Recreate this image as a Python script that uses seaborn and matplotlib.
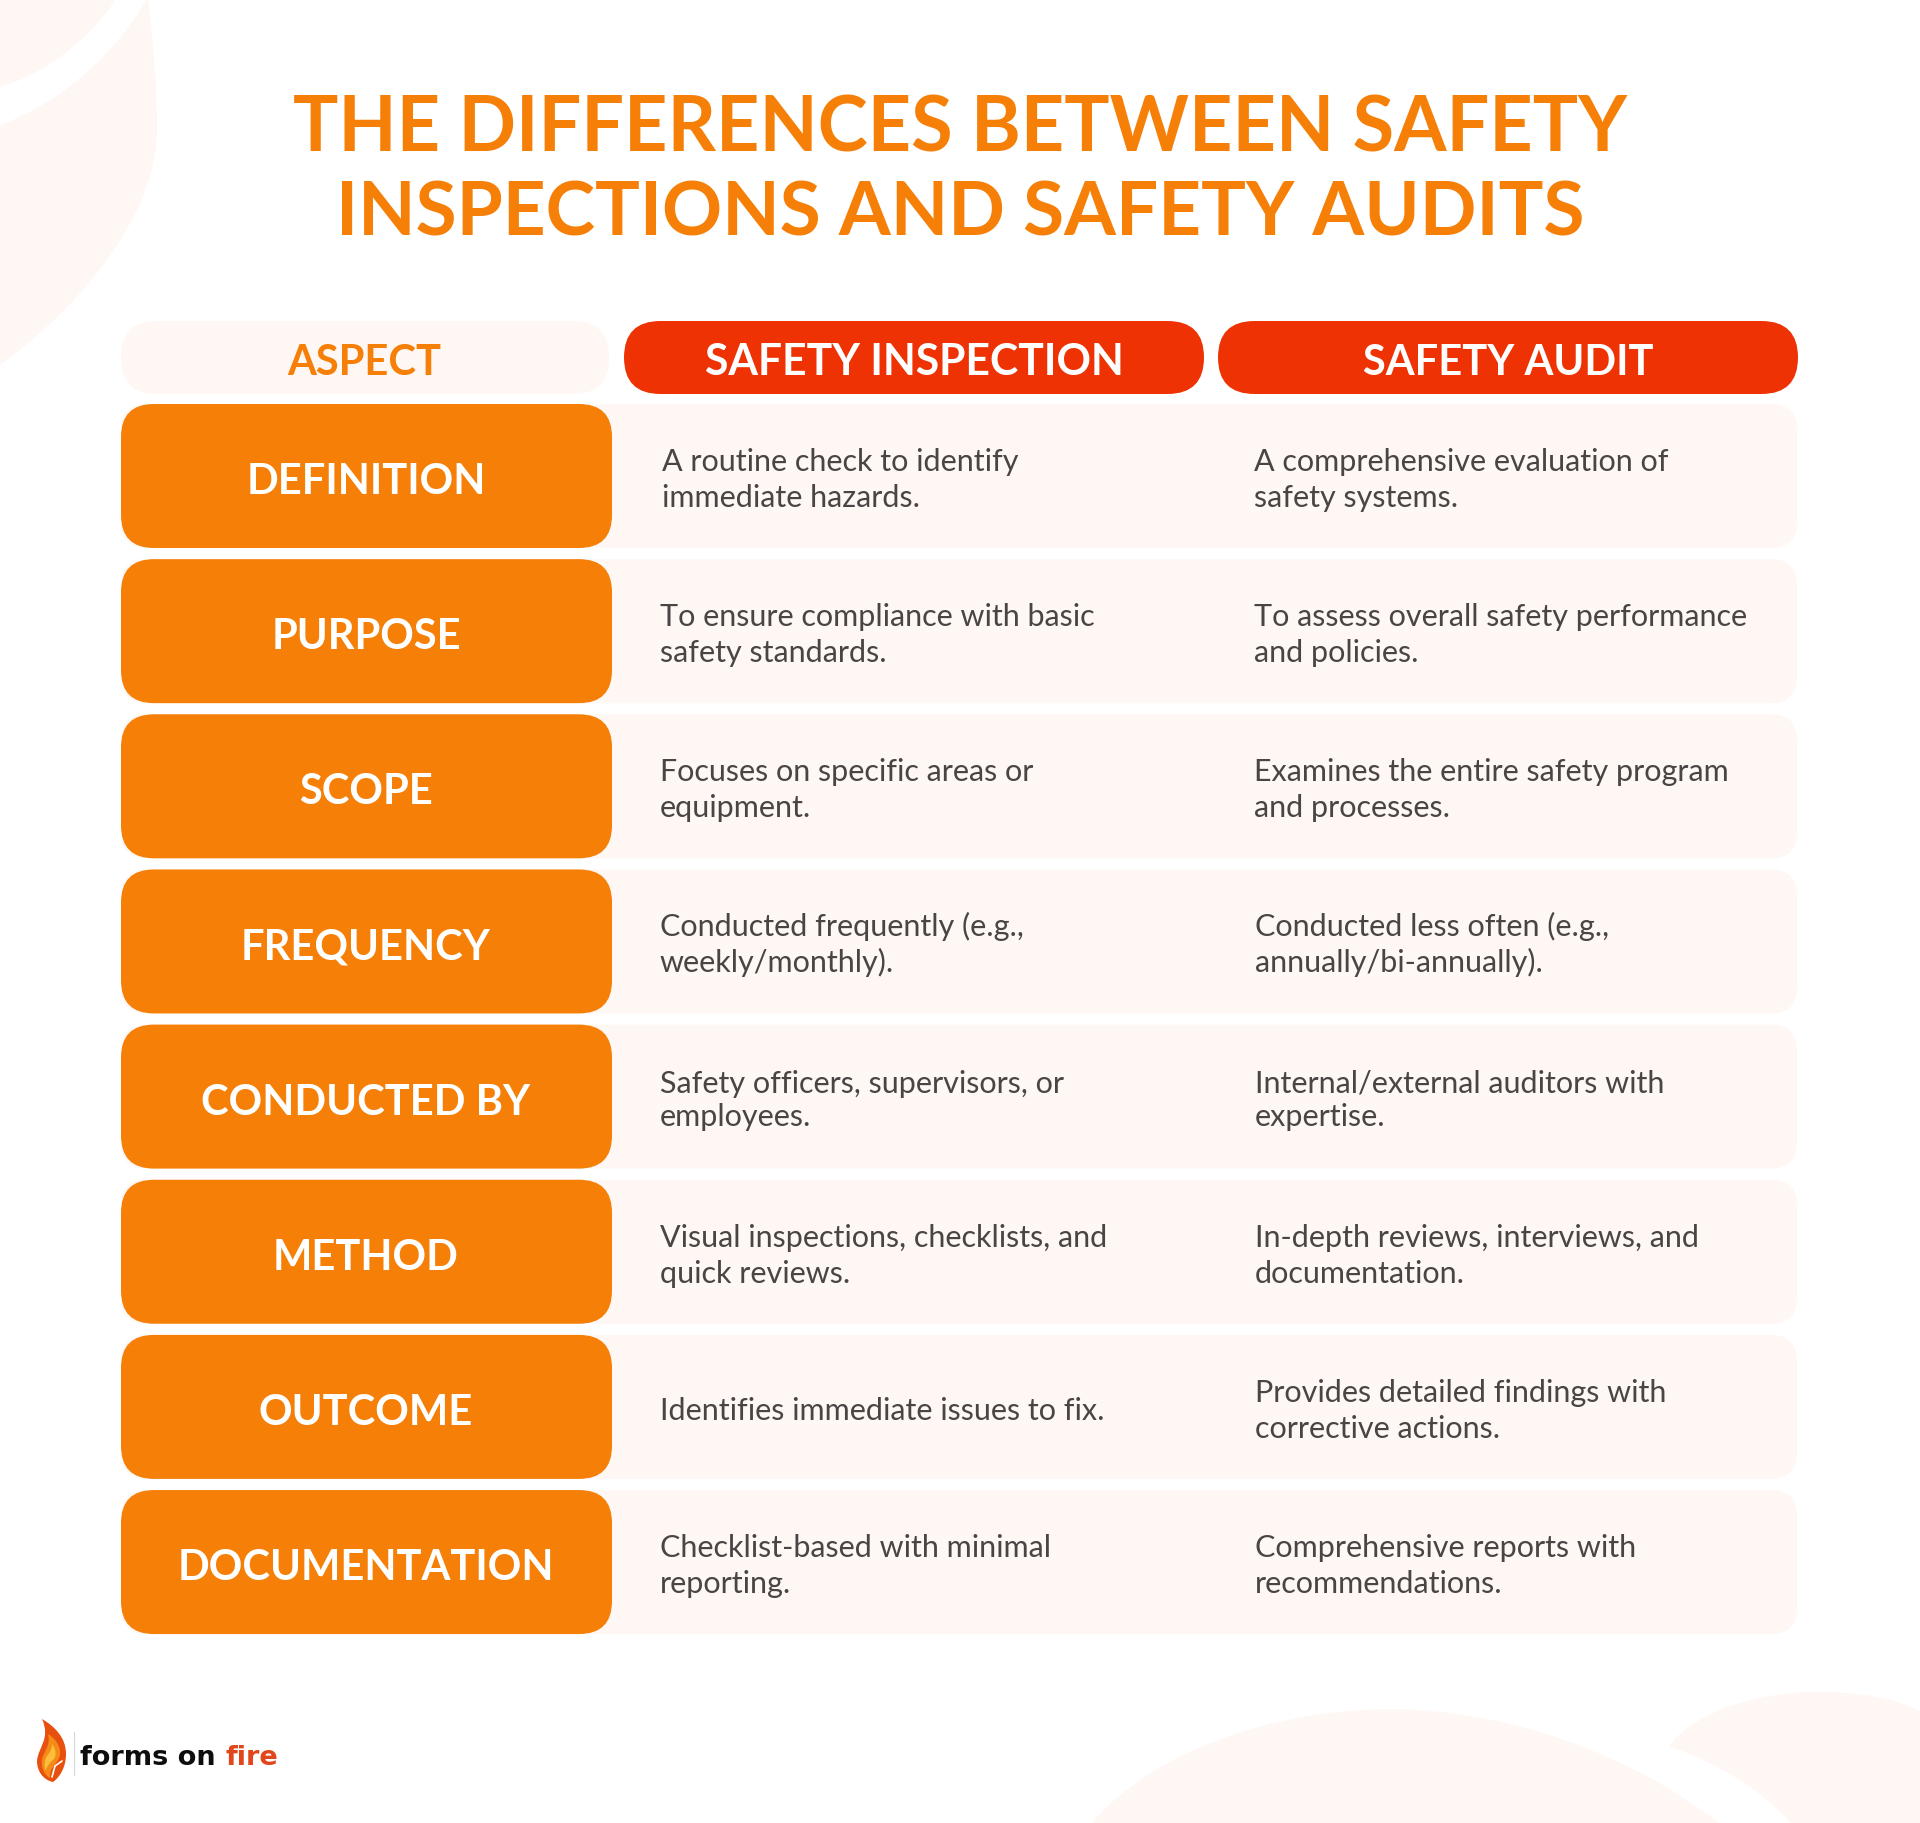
import matplotlib.pyplot as plt
import pandas as pd
import seaborn as sns
from matplotlib.patches import FancyBboxPatch, PathPatch
from matplotlib.path import Path

title_lines = ["THE DIFFERENCES BETWEEN SAFETY", "INSPECTIONS AND SAFETY AUDITS"]
headers = ["ASPECT", "SAFETY INSPECTION", "SAFETY AUDIT"]
aspects = ["DEFINITION", "PURPOSE", "SCOPE", "FREQUENCY", "CONDUCTED BY", "METHOD", "OUTCOME", "DOCUMENTATION"]
inspection = [
    "A routine check to identify\nimmediate hazards.",
    "To ensure compliance with basic\nsafety standards.",
    "Focuses on specific areas or\nequipment.",
    "Conducted frequently (e.g.,\nweekly/monthly).",
    "Safety officers, supervisors, or\nemployees.",
    "Visual inspections, checklists, and\nquick reviews.",
    "Identifies immediate issues to fix.",
    "Checklist-based with minimal\nreporting.",
]
audit = [
    "A comprehensive evaluation of\nsafety systems.",
    "To assess overall safety performance\nand policies.",
    "Examines the entire safety program\nand processes.",
    "Conducted less often (e.g.,\nannually/bi-annually).",
    "Internal/external auditors with\nexpertise.",
    "In-depth reviews, interviews, and\ndocumentation.",
    "Provides detailed findings with\ncorrective actions.",
    "Comprehensive reports with\nrecommendations.",
]

ORANGE = "#F57F07"
RED = "#EE3203"
TINT = "#FEF7F4"
INK = "#4A4444"
FONT = "Lato"

ROW_TOP = 405
ROW_STEP = 155.15
ROW_H = 144


def box(ax, x0, y0, x1, y1, radius, color, z=1):
    ax.add_patch(FancyBboxPatch((x0, y0), x1 - x0, y1 - y0,
                                boxstyle=f"round,pad=0,rounding_size={radius}",
                                fc=color, ec="none", zorder=z))


def blob(ax, verts, color, z=0):
    # closed shape from a start point and cubic bezier triples
    codes = [Path.MOVETO] + [Path.CURVE4] * (len(verts) - 1)
    verts = list(verts) + [verts[0]]
    codes = codes + [Path.CLOSEPOLY]
    ax.add_patch(PathPatch(Path(verts, codes), fc=color, ec="none", zorder=z))


def draw_background(ax):
    # top left flame shape, with the white band across it
    blob(ax, [(0, 0), (50, 0), (100, 0), (148, 0), (153, 40), (157, 90), (157, 130),
              (157, 210), (90, 300), (0, 366), (0, 240), (0, 120), (0, 0)], TINT)
    blob(ax, [(0, 88), (45, 75), (90, 40), (116, 0), (126, 0), (137, 0), (147, 0),
              (115, 55), (60, 105), (0, 126), (0, 113), (0, 100), (0, 88)], "white", z=0.5)
    # bottom right shapes
    blob(ax, [(1092, 1824), (1150, 1755), (1270, 1710), (1394, 1710), (1510, 1712), (1630, 1755), (1719, 1824),
              (1510, 1824), (1300, 1824), (1092, 1824)], TINT)
    blob(ax, [(1669, 1747), (1695, 1712), (1760, 1693), (1816, 1693), (1860, 1693), (1890, 1698), (1920, 1712),
              (1920, 1750), (1920, 1790), (1920, 1824), (1880, 1824), (1830, 1824), (1791, 1824),
              (1760, 1790), (1720, 1765), (1669, 1747)], TINT)


def draw_logo(ax):
    blob(ax, [(42, 1720), (54, 1727), (66, 1738), (66, 1755), (66, 1768), (60, 1778), (53, 1783),
              (43, 1781), (37, 1772), (37, 1762), (38, 1748), (51, 1740), (42, 1720)], "#E8500F", z=3)
    blob(ax, [(48, 1735), (56, 1740), (61, 1748), (60, 1756), (58, 1765), (49, 1768), (50, 1779),
              (43, 1775), (41, 1767), (42, 1760), (44, 1752), (51, 1746), (48, 1735)], "#F68A17", z=4)
    blob(ax, [(52, 1745), (56, 1750), (57, 1757), (53, 1761), (49, 1765), (46, 1768), (46, 1772),
              (43, 1766), (45, 1760), (47, 1757), (50, 1753), (52, 1750), (52, 1745)], "#FBBE3C", z=5)
    ax.plot([62, 55, 52], [1762, 1767, 1778], color="white", lw=1.2, zorder=6)
    ax.plot([74, 74], [1733, 1776], color="#D8D8D8", lw=0.8, zorder=3)
    ax.text(80, 1765, "forms on", color="#0E0E0E", fontsize=19.5, fontweight="bold",
            family="DejaVu Sans", va="baseline", zorder=3)
    ax.text(226, 1765, "fire", color="#E0471B", fontsize=19.5, fontweight="bold",
            family="DejaVu Sans", va="baseline", zorder=3)


sns.set_theme(style="white")
plt.rcParams["font.family"] = [FONT, "DejaVu Sans"]

table = pd.DataFrame({"aspect": aspects, "inspection": inspection, "audit": audit})

fig, ax = plt.subplots(figsize=(19.2, 18.24), dpi=100)
fig.subplots_adjust(0, 0, 1, 1)
ax.set_xlim(0, 1920)
ax.set_ylim(1824, 0)
ax.axis("off")

draw_background(ax)

for line, base, size in zip(title_lines, [152, 236], [54.4, 53.7]):
    ax.text(960, base, line, color=ORANGE, fontsize=size, fontweight="bold", ha="center", va="baseline")

# header pills
box(ax, 121, 322, 609, 395, 36, TINT)
box(ax, 624, 322, 1204, 395, 36.5, RED)
box(ax, 1218, 322, 1798, 395, 36.5, RED)
for name, cx, col, size in zip(headers, [364, 914, 1508], [ORANGE, "white", "white"], [30, 30.7, 30]):
    ax.text(cx, 375, name, color=col, fontsize=size, fontweight="bold", ha="center", va="baseline")

for i, row in table.iterrows():
    top = ROW_TOP + i * ROW_STEP
    box(ax, 121, top, 1797, top + ROW_H, 26, TINT)
    box(ax, 121, top, 612, top + ROW_H, 33, ORANGE, z=2)
    ax.text(366, top + 89, row["aspect"], color="white", fontsize=30, fontweight="bold",
            ha="center", va="baseline", zorder=3)
    for key, x in [("inspection", 660 if i else 662), ("audit", 1254 if i < 3 else 1255)]:
        lines = row[key].split("\n")
        if len(lines) == 1:
            bases = [top + 84]
        elif i == 4:
            bases = [top + 67, top + 100]
        else:
            bases = [top + 66, top + 102]
        for text, y in zip(lines, bases):
            ax.text(x, y, text, color=INK, fontsize=22, ha="left", va="baseline", zorder=3)

draw_logo(ax)

fig.savefig("out.png", dpi=100, facecolor="white")
